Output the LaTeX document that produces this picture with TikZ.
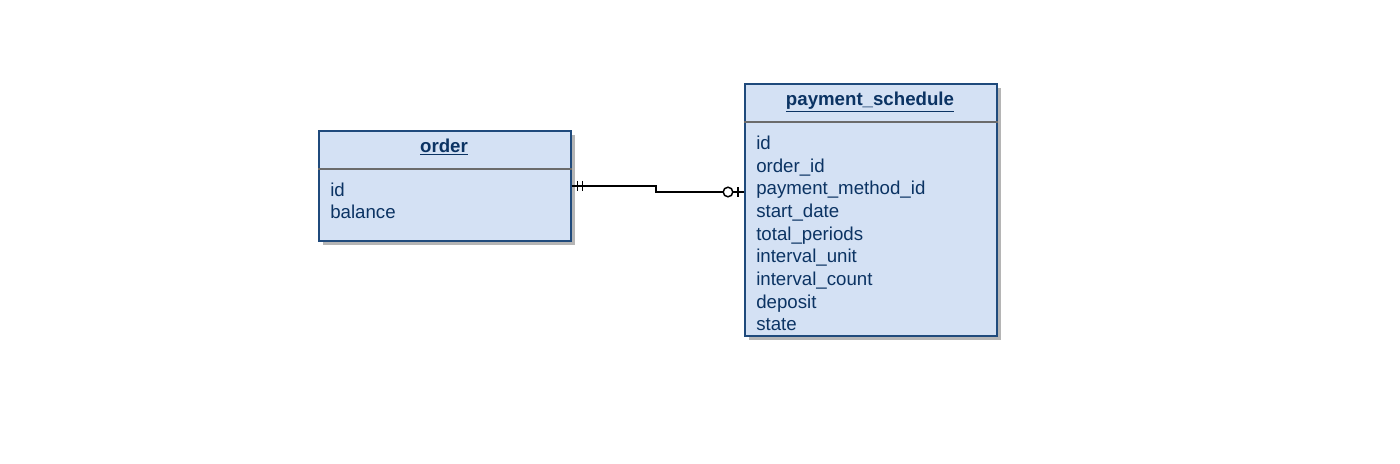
\documentclass[tikz,border=0pt]{standalone}
\usepackage{fontspec}
\setmainfont{Liberation Sans}
\usetikzlibrary{shadows}

\definecolor{entfill}{HTML}{D4E1F4}
\definecolor{entborder}{HTML}{1F4A7C}
\definecolor{enttext}{HTML}{0B3363}
\definecolor{sepgray}{HTML}{6B6B6B}
\definecolor{shadowgray}{HTML}{B5B5B5}

\tikzset{
  entity/.style={draw=entborder, fill=entfill, line width=1.3pt, minimum width=189pt,
    anchor=north west, inner sep=0pt,
    drop shadow={shadow xshift=3pt, shadow yshift=-3pt, fill=shadowgray, opacity=1}},
  title/.style={font=\fontsize{14}{17}\selectfont\bfseries, text=enttext, anchor=base, inner sep=0pt},
  field/.style={font=\fontsize{14}{17}\selectfont, text=enttext, anchor=base west, inner sep=0pt},
  sepline/.style={draw=sepgray, line width=1pt},
  rel/.style={line width=1.1pt, black}
}

\begin{document}
\begin{tikzpicture}[x=0.75pt, y=-0.75pt]
    \useasboundingbox (0,0) rectangle (1400,464);
    % entities
    \node[entity, minimum height=82.5pt] (order) at (318,130) {};
    \node[entity, minimum height=189pt] (ps) at (744,83) {};
    % header separators
    \draw[sepline] ([yshift=-29.25pt]order.north west) -- ([yshift=-29.25pt]order.north east);
    \draw[sepline] ([yshift=-29.25pt]ps.north west) -- ([yshift=-29.25pt]ps.north east);
    % titles
    \node[title] (order-title) at (444,152.3) {\underline{order}};
    \node[title] (ps-title) at (870,105.5) {\underline{payment\_schedule}};
    % fields
    \foreach \f [count=\i] in {id,balance}
        \node[field] (order-\i) at (330,{196+(\i-1)*22.4}) {\f};
    \foreach \f [count=\i] in {id,order\_id,payment\_method\_id,start\_date,total\_periods,
        interval\_unit,interval\_count,deposit,state}
        \node[field] (ps-\i) at (756,{149.5+(\i-1)*22.65}) {\f};
    % relationship
    \coordinate (bend) at (656,192);
    \coordinate (ps-in) at (bend -| ps.west);
    \draw[rel] (order.east) -| (bend) -- (ps-in);
    % one and only one
    \draw[rel] ([xshift=4.5pt]order.east) ++(0,-5) -- ++(0,10);
    \draw[rel] ([xshift=8.25pt]order.east) ++(0,-5) -- ++(0,10);
    % zero or one
    \draw[rel] ([xshift=-4.5pt]ps-in) ++(0,-5) -- ++(0,10);
    \draw[rel, fill=white] ([xshift=-12pt]ps-in) circle (3.6pt);
\end{tikzpicture}
\end{document}
